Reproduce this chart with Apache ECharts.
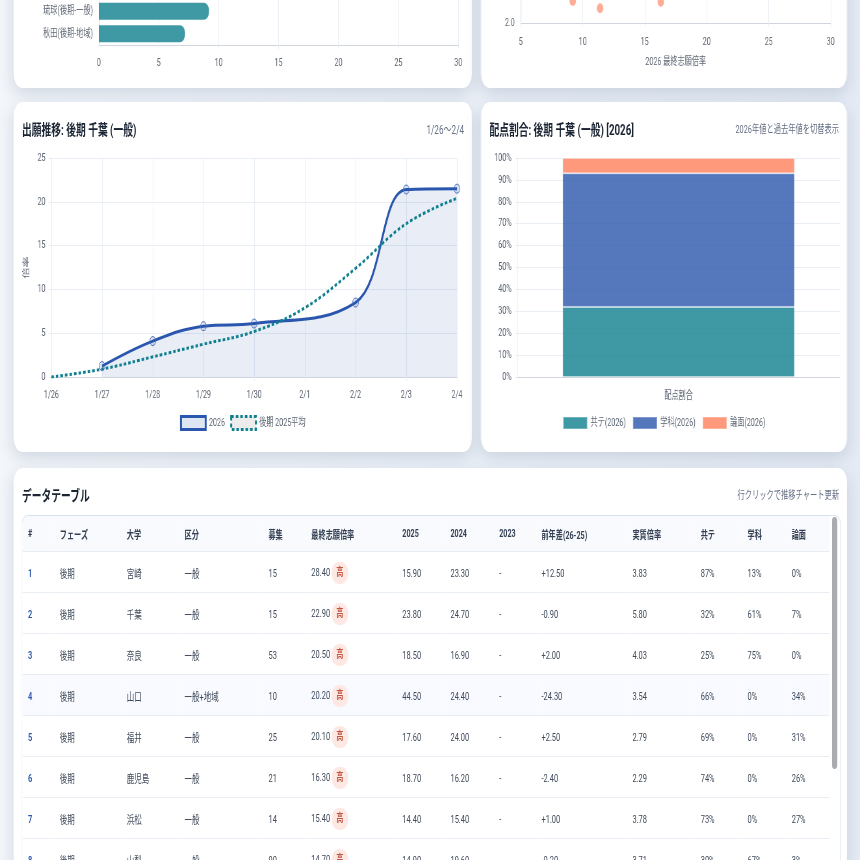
<!DOCTYPE html>
<html lang="ja">
<head>
<meta charset="utf-8">
<title>出願推移</title>
<script src="https://cdn.jsdelivr.net/npm/echarts@6/dist/echarts.min.js"></script>
<style>
  html, body { margin: 0; height: 100%; overflow: hidden; background: #eaf0f6; }
  /* page is laid out at 1323px wide and squeezed to the 860px window */
  #page {
    position: absolute; left: 0; top: 0; width: 1323px; height: 860px; overflow: hidden;
    transform: scaleX(0.65); transform-origin: 0 0;
    background: linear-gradient(90deg, #f3f6fa, #e5ebf4);
    font-family: Roboto, "Noto Sans CJK JP", sans-serif; color: #344054;
  }
  .card {
    position: absolute; background: #fff; border-radius: 14px;
    box-shadow: 0 6px 18px rgba(90, 115, 145, 0.22);
  }
  .chart { position: absolute; left: 0; top: 0; width: 100%; height: 100%; }
  .title { position: absolute; left: 13px; top: 18px; font-size: 15px; line-height: 20px; font-weight: 700; color: #1a2433; z-index: 2; }
  .sub { position: absolute; right: 12px; top: 19px; font-size: 11.2px; line-height: 18px; color: #667085; z-index: 2; }
  #tableWrap {
    position: absolute; left: 12px; top: 47px; width: 1259px; height: 400px; overflow: hidden;
    border: 1px solid #d8e3ee; border-bottom: none; border-radius: 10px 10px 0 0;
  }
  table { border-collapse: collapse; table-layout: fixed; width: 1241px; margin-left: 1px; font-size: 11.5px; color: #3f4a5a; }
  th { height: 35px; padding: 0 0 0 8px; text-align: left; font-size: 11px; font-weight: 700; background: #f8fafd; color: #344054; border-bottom: 1px solid #e6ecf3; }
  td { height: 41px; box-sizing: border-box; padding: 2px 0 0 8px; border-bottom: 1px solid #e9eef4; white-space: nowrap; }
  tr.hover td { background: #f8faff; }
  td.rank { color: #2a56ad; font-weight: 600; }
  .badge {
    display: inline-block; width: 26px; height: 22px; line-height: 22px; margin-left: 2px; text-align: center;
    border-radius: 11px; background: #fde8e4; color: #bf553f; font-size: 11px; font-weight: 700;
  }
  #scrollThumb { position: absolute; right: 5px; top: 1px; width: 8px; height: 252px; border-radius: 4px; background: #a9abae; }
</style>
</head>
<body>
<div id="page">
  <div class="card" style="left:21px;top:-60px;width:705px;height:148px"><div id="barChart" class="chart"></div></div>
  <div class="card" style="left:740px;top:-60px;width:563px;height:148px"><div id="scatterChart" class="chart"></div></div>

  <div class="card" style="left:21px;top:102px;width:705px;height:350px">
    <div class="title">出願推移: 後期 千葉 (一般)</div>
    <div class="sub" style="font-size:12.5px">1/26〜2/4</div>
    <div id="trendChart" class="chart"></div>
  </div>
  <div class="card" style="left:740px;top:102px;width:563px;height:350px">
    <div class="title">配点割合: 後期 千葉 (一般) [2026]</div>
    <div class="sub">2026年値と過去年値を切替表示</div>
    <div id="ratioChart" class="chart"></div>
  </div>

  <div class="card" style="left:21px;top:468px;width:1282px;height:440px">
    <div class="title">データテーブル</div>
    <div class="sub">行クリックで推移チャート更新</div>
    <div id="tableWrap">
      <table id="dataTable"></table>
      <div id="scrollThumb"></div>
    </div>
  </div>
</div>

<script>
// ----------------------
// Data
// ----------------------
const BAR_NAMES = ['琉球(後期-一般)', '秋田(後期-地域)'];
const BAR_VALUES = [9.2, 7.2];

const SCATTER_X = [9.2, 11.4, 16.3];
const SCATTER_Y = [2.3, 2.2, 2.29];

const DATES = ['1/26', '1/27', '1/28', '1/29', '1/30', '2/1', '2/2', '2/3', '2/4'];
const TREND_2026 = [null, 1.25, 4.1, 5.8, 6.1, null, 8.5, 21.4, 21.5];
const TREND_AVG_2025 = [0, 0.9, 2.3, 3.75, 5.2, 7.9, 12.4, 17.5, 20.4];

const RATIO_NAMES = ['共テ(2026)', '学科(2026)', '論面(2026)'];
const RATIO_VALUES = [32, 61, 7];

const TABLE_HEAD = ['#', 'フェーズ', '大学', '区分', '募集', '最終志願倍率', '2025', '2024', '2023', '前年差(26-25)', '実質倍率', '共テ', '学科', '論面'];
const COL_WIDTHS = [49, 103, 89, 129, 66, 140, 74, 75, 65, 140, 105, 72, 68, 66];
const PHASES = ['後期', '後期', '後期', '後期', '後期', '後期', '後期', '後期'];
const UNIVS = ['宮崎', '千葉', '奈良', '山口', '福井', '鹿児島', '浜松', '山梨'];
const KUBUN = ['一般', '一般', '一般', '一般+地域', '一般', '一般', '一般', '一般'];
const QUOTA = [15, 15, 53, 10, 25, 21, 14, 90];
const FINAL_RATE = ['28.40', '22.90', '20.50', '20.20', '20.10', '16.30', '15.40', '14.70'];
const RATE_2025 = ['15.90', '23.80', '18.50', '44.50', '17.60', '18.70', '14.40', '14.90'];
const RATE_2024 = ['23.30', '24.70', '16.90', '24.40', '24.00', '16.20', '15.40', '19.60'];
const RATE_2023 = ['-', '-', '-', '-', '-', '-', '-', '-'];
const DIFF = ['+12.50', '-0.90', '+2.00', '-24.30', '+2.50', '-2.40', '+1.00', '-0.20'];
const REAL_RATE = ['3.83', '5.80', '4.03', '3.54', '2.79', '2.29', '3.78', '3.71'];
const SHARE_KYOTSU = ['87%', '32%', '25%', '66%', '69%', '74%', '73%', '30%'];
const SHARE_GAKKA = ['13%', '61%', '75%', '0%', '0%', '0%', '0%', '67%'];
const SHARE_RONMEN = ['0%', '7%', '0%', '34%', '31%', '26%', '27%', '3%'];

// ----------------------
// Colors and shared axis styles
// ----------------------
const COLOR_TEAL = 'rgba(15, 127, 143, 0.8)';
const COLOR_BLUE = 'rgba(42, 86, 173, 0.8)';
const COLOR_CORAL = 'rgba(255, 127, 90, 0.8)';
const COLOR_LABEL = '#5f6875';
const FONT = 'Roboto, "Noto Sans CJK JP", sans-serif';
const GRID_LINE = { show: true, lineStyle: { color: '#e9eef5', width: 1 } };
const AXIS_LINE = { show: true, lineStyle: { color: '#d0d5dd', width: 1 } };
const AXIS_TICK = { show: true, length: 4, lineStyle: { color: '#e9eef5' } };
const LABEL = { color: COLOR_LABEL, fontSize: 11, fontFamily: FONT };

// 棒グラフ (top left, scrolled out of the window)
function initBarChart() {
  const chart = echarts.init(document.getElementById('barChart'));
  chart.setOption({
    animation: false,
    grid: { left: 131, right: 21, top: 60, bottom: 43 },
    xAxis: {
      type: 'value', min: 0, max: 30, interval: 5,
      axisLine: AXIS_LINE, axisTick: AXIS_TICK, splitLine: GRID_LINE,
      axisLabel: { ...LABEL, margin: 13 }
    },
    yAxis: {
      type: 'category', inverse: true, data: BAR_NAMES,
      axisLine: AXIS_LINE, axisTick: { show: false },
      axisLabel: { ...LABEL, margin: 9 }
    },
    series: [{
      type: 'bar', data: BAR_VALUES, barWidth: 17,
      itemStyle: { color: COLOR_TEAL, borderRadius: [0, 8, 8, 0] }
    }]
  });
}

// 散布図 (top right, scrolled out of the window)
function initScatterChart() {
  const chart = echarts.init(document.getElementById('scatterChart'));
  chart.setOption({
    animation: false,
    grid: { left: 61, right: 25, top: 9.6, bottom: 65 },
    xAxis: {
      type: 'value', min: 5, max: 30, interval: 5,
      name: '2026 最終志願倍率', nameLocation: 'middle', nameGap: 34,
      nameTextStyle: { ...LABEL },
      axisLine: AXIS_LINE, axisTick: AXIS_TICK, splitLine: GRID_LINE,
      axisLabel: { ...LABEL, margin: 14 }
    },
    yAxis: {
      type: 'value', min: 2, max: 3, interval: 0.5,
      axisLine: AXIS_LINE, axisTick: { show: false }, splitLine: GRID_LINE,
      axisLabel: { ...LABEL, margin: 9, formatter: v => v.toFixed(1) }
    },
    series: [{
      type: 'scatter', symbolSize: 10,
      data: SCATTER_X.map((x, i) => [x, SCATTER_Y[i]]),
      itemStyle: { color: COLOR_CORAL }
    }]
  });
}

// 出願推移 (Line)
function initTrendChart() {
  const chart = echarts.init(document.getElementById('trendChart'));
  chart.setOption({
    animation: false,
    grid: { left: 58, right: 23, top: 56, bottom: 75 },
    legend: {
      top: 308, icon: 'rect', itemWidth: 38, itemHeight: 13, itemGap: 8,
      textStyle: { ...LABEL },
      data: [
        { name: '2026', itemStyle: { color: 'rgba(42, 86, 173, 0.15)', borderColor: '#2a56ad', borderWidth: 3 } },
        { name: '後期 2025平均', itemStyle: { color: '#ececec', borderColor: '#0f7f8f', borderWidth: 3, borderType: [4, 3] } }
      ]
    },
    xAxis: {
      type: 'category', boundaryGap: false, data: DATES,
      axisLine: AXIS_LINE, axisTick: AXIS_TICK, splitLine: GRID_LINE,
      axisLabel: { ...LABEL, margin: 13, interval: 0 }
    },
    yAxis: {
      type: 'value', min: 0, max: 25, interval: 5,
      name: '倍率', nameLocation: 'middle', nameGap: 23, nameRotate: 90,
      nameTextStyle: { color: COLOR_LABEL, fontSize: 11, fontFamily: FONT },
      axisLine: { show: true, lineStyle: { color: '#e9eef5' } }, axisTick: AXIS_TICK, splitLine: GRID_LINE,
      axisLabel: { ...LABEL, margin: 9 }
    },
    series: [
      {
        name: '2026', type: 'line', data: TREND_2026, connectNulls: true, smooth: 0.4,
        symbol: 'circle', symbolSize: 9, showAllSymbol: true,
        lineStyle: { color: '#2a56ad', width: 3 },
        itemStyle: { color: 'rgba(42, 86, 173, 0.15)', borderColor: '#4a6fbb', borderWidth: 1 },
        areaStyle: { color: 'rgba(42, 86, 173, 0.15)' }
      },
      {
        name: '後期 2025平均', type: 'line', data: TREND_AVG_2025, smooth: 0.4,
        symbol: 'none',
        lineStyle: { color: '#0f7f8f', width: 3, type: [4, 3] },
        itemStyle: { color: '#0f7f8f' }
      }
    ]
  });
}

// 配点割合 (Stacked bar)
function initRatioChart() {
  const chart = echarts.init(document.getElementById('ratioChart'));
  const colors = [COLOR_TEAL, COLOR_BLUE, COLOR_CORAL];
  chart.setOption({
    animation: false,
    grid: { left: 56, right: 11, top: 56, bottom: 75 },
    legend: {
      top: 309, icon: 'rect', itemWidth: 37, itemHeight: 12, itemGap: 10,
      textStyle: { ...LABEL }, data: RATIO_NAMES
    },
    xAxis: {
      type: 'category', data: ['配点割合'],
      axisLine: AXIS_LINE, axisTick: { show: false },
      axisLabel: { ...LABEL, margin: 14 }
    },
    yAxis: {
      type: 'value', min: 0, max: 100, interval: 10,
      axisLine: { show: true, lineStyle: { color: '#e9eef5' } }, axisTick: AXIS_TICK, splitLine: GRID_LINE,
      axisLabel: { ...LABEL, margin: 9, formatter: '{value}%' }
    },
    series: RATIO_NAMES.map((name, i) => ({
      name, type: 'bar', stack: 'ratio', barWidth: '72%', z: 3,
      data: [RATIO_VALUES[i]],
      itemStyle: { color: colors[i], borderColor: 'rgba(255, 255, 255, 0.25)', borderWidth: 1 }
    }))
  });
}

// データテーブル
function buildTable() {
  const rowCells = i => [
    i + 1, PHASES[i], UNIVS[i], KUBUN[i], QUOTA[i],
    `${FINAL_RATE[i]}<span class="badge">高</span>`,
    RATE_2025[i], RATE_2024[i], RATE_2023[i], DIFF[i], REAL_RATE[i],
    SHARE_KYOTSU[i], SHARE_GAKKA[i], SHARE_RONMEN[i]
  ];
  let html = '<colgroup>' + COL_WIDTHS.map(w => `<col style="width:${w}px">`).join('') + '</colgroup>';
  html += '<thead><tr>' + TABLE_HEAD.map(h => `<th>${h}</th>`).join('') + '</tr></thead><tbody>';
  UNIVS.forEach((u, i) => {
    const cells = rowCells(i).map((c, j) => `<td${j === 0 ? ' class="rank"' : ''}>${c}</td>`).join('');
    html += `<tr${i === 3 ? ' class="hover"' : ''}>${cells}</tr>`;
  });
  document.getElementById('dataTable').innerHTML = html + '</tbody>';
}

// ----------------------
// Init
// ----------------------
initBarChart();
initScatterChart();
initTrendChart();
initRatioChart();
buildTable();
</script>
</body>
</html>
